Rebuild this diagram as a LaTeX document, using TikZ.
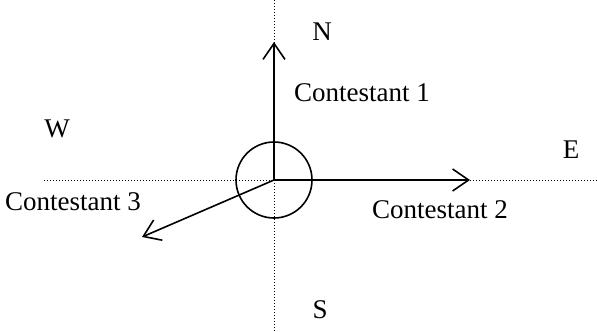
\documentclass[tikz,border=0pt]{standalone}
\usepackage{fontspec}
\setmainfont{Liberation Serif}
\usetikzlibrary{arrows.meta}

\begin{document}
\begin{tikzpicture}[x=0.5pt,y=-0.5pt,>={Straight Barb[length=8pt,width=11pt]}]
    \tikzset{axis/.style={densely dotted,line width=0.5pt},
             vec/.style={->,line width=0.8pt},
             lab/.style={font=\fontsize{13.5}{16}\selectfont,inner sep=0pt}}
    \useasboundingbox (0,0) rectangle (597,331);
    % compass lines
    \coordinate (O) at (274,180);
    \coordinate (top) at (274,0);
    \coordinate (bot) at (274,331);
    \coordinate (left) at (44,180);
    \coordinate (right) at (597,180);
    \draw[axis] (top) -- (bot);
    \draw[axis] (left) -- (right);
    \draw[line width=0.8pt] (O) circle (38);
    % contestants
    \coordinate (c1) at (274,42);
    \coordinate (c2) at (470,180);
    \coordinate (c3) at (142,237);
    \draw[vec] (O) -- (c1);
    \draw[vec] (O) -- (c2);
    \draw[vec] (O) -- (c3);
    % labels
    \node[lab] (n) at (322,32) {N};
    \node[lab] (s) at (320,310) {S};
    \node[lab] (w) at (57,129) {W};
    \node[lab] (e) at (571,150) {E};
    \node[lab] (l1) at (362,93) {Contestant 1};
    \node[lab] (l2) at (440,210) {Contestant 2};
    \node[lab] (l3) at (73,202) {Contestant 3};
\end{tikzpicture}
\end{document}
